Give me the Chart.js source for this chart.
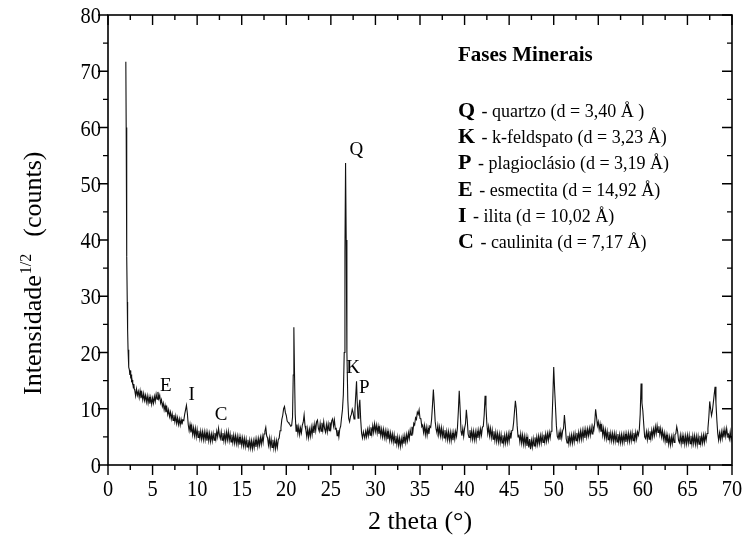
<!DOCTYPE html>
<html>
<head>
<meta charset="utf-8">
<script src="https://cdn.jsdelivr.net/npm/chart.js@4.4.1/dist/chart.umd.min.js"></script>
<style>
  html, body { margin: 0; padding: 0; background: #fff; }
  #wrap { width: 743px; height: 548px; }
</style>
</head>
<body>
<div id="wrap"><canvas id="myChart"></canvas></div>
<script>
// XRD scan: [2 theta (deg), intensity^1/2]
var scan = [
  [2.00,71.7],[2.04,60.0],[2.08,47.0],[2.12,37.0],[2.16,29.0],[2.20,24.0],[2.25,20.5],[2.30,18.5],[2.35,17.4],[2.40,16.9],
  [2.45,16.0],[2.50,16.8],[2.55,15.4],[2.60,16.1],[2.65,14.7],[2.70,15.1],[2.75,14.3],[2.80,14.6],[2.85,13.7],[2.90,14.4],
  [2.95,13.5],[3.0,13.3],[3.1,12.3],[3.2,13.5],[3.3,12.4],[3.4,13.1],[3.5,12.0],[3.6,13.2],[3.7,11.9],[3.8,12.8],
  [3.9,11.6],[4.0,12.7],[4.1,11.5],[4.2,12.4],[4.3,11.2],[4.4,12.3],[4.5,11.0],[4.6,12.1],[4.7,10.9],[4.8,12.0],
  [4.9,10.8],[5.0,11.9],[5.1,11.0],[5.2,12.2],[5.3,11.3],[5.4,12.6],[5.5,11.7],[5.6,13.0],[5.7,11.8],[5.8,12.4],
  [5.9,11.0],[6.0,11.6],[6.1,10.4],[6.2,11.0],[6.3,9.8],[6.4,10.6],[6.5,9.4],[6.6,10.2],[6.7,9.0],[6.8,9.8],
  [6.9,8.6],[7.0,9.4],[7.1,8.2],[7.2,9.1],[7.3,7.9],[7.4,8.9],[7.5,7.7],[7.6,8.7],[7.7,7.4],[7.8,8.4],
  [7.9,7.2],[8.0,8.2],[8.1,7.1],[8.2,8.1],[8.3,7.2],[8.4,8.0],[8.5,7.9],[8.6,9.0],[8.7,9.8],[8.8,10.6],
  [8.9,9.2],[9.0,7.2],[9.1,6.1],[9.2,7.2],[9.3,5.8],[9.4,6.9],[9.5,5.4],[9.6,6.6],[9.7,5.2],[9.8,6.5],
  [9.9,5.0],[10.0,6.3],[10.1,4.9],[10.2,6.1],[10.3,4.7],[10.4,6.0],[10.5,4.6],[10.6,5.9],[10.7,4.5],[10.8,5.9],
  [10.9,4.5],[11.0,5.8],[11.1,4.3],[11.2,5.7],[11.3,4.3],[11.4,5.6],[11.5,4.2],[11.6,5.5],[11.7,4.3],[11.8,5.6],
  [11.9,4.4],[12.0,5.7],[12.1,4.6],[12.2,6.0],[12.3,5.0],[12.4,6.5],[12.5,5.3],[12.6,4.7],[12.7,5.9],[12.8,4.4],
  [12.9,5.7],[13.0,4.3],[13.1,5.6],[13.2,4.2],[13.3,5.8],[13.4,4.5],[13.5,5.9],[13.6,4.3],[13.7,5.5],[13.8,4.1],
  [13.9,5.4],[14.0,4.0],[14.1,5.3],[14.2,3.9],[14.3,5.2],[14.4,3.8],[14.5,5.1],[14.6,3.7],[14.7,5.0],[14.8,3.6],
  [14.9,4.9],[15.0,3.5],[15.1,4.8],[15.2,3.4],[15.3,4.7],[15.4,3.3],[15.5,4.6],[15.6,3.2],[15.7,4.5],[15.8,3.1],
  [15.9,4.4],[16.0,3.0],[16.1,4.3],[16.2,2.9],[16.3,4.3],[16.4,3.1],[16.5,4.5],[16.6,3.2],[16.7,4.6],[16.8,3.3],
  [16.9,4.7],[17.0,3.5],[17.1,4.9],[17.2,3.7],[17.3,5.1],[17.4,4.0],[17.5,5.5],[17.6,6.0],[17.7,6.7],[17.8,5.2],
  [17.9,4.8],[18.0,3.5],[18.1,4.8],[18.2,3.2],[18.3,4.6],[18.4,3.1],[18.5,4.5],[18.6,3.0],[18.7,4.4],[18.8,2.9],
  [18.9,4.3],[19.0,3.1],[19.1,4.5],[19.2,4.8],[19.3,6.1],[19.4,6.6],[19.5,8.1],[19.6,8.8],[19.7,10.0],[19.8,10.4],
  [19.9,9.3],[20.0,8.8],[20.1,7.8],[20.2,7.6],[20.3,7.4],[20.4,7.2],[20.5,6.9],[20.6,7.0],[20.7,8.5],[20.78,16.0],
  [20.85,24.5],[20.92,16.5],[21.0,9.0],[21.1,6.0],[21.2,7.2],[21.3,5.6],[21.4,6.8],[21.5,5.4],[21.6,6.6],[21.7,5.7],
  [21.8,7.1],[21.9,7.6],[22.0,8.9],[22.1,7.0],[22.2,6.2],[22.3,5.0],[22.4,6.4],[22.5,4.9],[22.6,6.3],[22.7,5.1],
  [22.8,6.7],[22.9,5.4],[23.0,6.9],[23.1,5.7],[23.2,7.3],[23.3,6.1],[23.4,7.7],[23.5,8.0],[23.6,6.5],[23.7,6.0],
  [23.8,7.4],[23.9,6.0],[24.0,7.5],[24.1,6.2],[24.2,7.7],[24.3,6.4],[24.4,5.8],[24.5,7.2],[24.6,5.9],[24.7,7.3],
  [24.8,6.1],[24.9,7.6],[25.0,6.5],[25.1,7.9],[25.2,8.2],[25.3,6.9],[25.4,8.0],[25.5,6.4],[25.6,6.5],[25.7,5.2],
  [25.8,6.2],[25.9,5.0],[26.0,6.4],[26.1,6.9],[26.2,8.4],[26.3,9.8],[26.4,12.5],[26.5,20.0],[26.58,38.0],[26.65,53.7],
  [26.72,40.0],[26.8,20.0],[26.9,11.6],[27.0,8.3],[27.1,7.7],[27.2,8.6],[27.3,9.0],[27.4,9.9],[27.5,9.3],[27.6,8.2],
  [27.7,9.8],[27.8,12.6],[27.88,14.9],[27.95,11.5],[28.05,8.3],[28.15,10.2],[28.25,11.6],[28.35,8.0],[28.45,5.6],[28.55,4.8],
  [28.65,5.9],[28.8,4.8],[28.9,6.0],[29.0,5.0],[29.1,6.3],[29.2,5.2],[29.3,6.5],[29.4,5.3],[29.5,6.7],[29.6,5.5],
  [29.7,7.0],[29.8,5.8],[29.9,7.3],[30.0,6.0],[30.1,7.1],[30.2,5.7],[30.3,6.9],[30.4,5.5],[30.5,6.6],[30.6,5.2],
  [30.7,6.4],[30.8,5.0],[30.9,6.3],[31.0,4.9],[31.1,6.1],[31.2,4.7],[31.3,6.0],[31.4,4.6],[31.5,5.8],[31.6,4.4],
  [31.7,5.7],[31.8,4.3],[31.9,5.5],[32.0,4.1],[32.1,5.4],[32.2,3.9],[32.3,5.2],[32.4,3.7],[32.5,5.0],[32.6,3.5],
  [32.7,4.8],[32.8,3.3],[32.9,4.7],[33.0,3.6],[33.1,5.0],[33.2,3.8],[33.3,5.2],[33.4,4.0],[33.5,5.4],[33.6,4.3],
  [33.7,5.7],[33.8,4.7],[33.9,6.2],[34.0,5.3],[34.1,6.8],[34.2,5.9],[34.3,7.4],[34.4,7.1],[34.5,8.4],[34.6,8.1],
  [34.7,9.4],[34.8,9.0],[34.9,9.8],[35.0,8.3],[35.1,8.2],[35.2,6.8],[35.3,7.1],[35.4,5.8],[35.5,7.0],[35.6,5.4],
  [35.7,6.7],[35.8,5.3],[35.9,6.6],[36.0,5.5],[36.1,6.9],[36.2,6.7],[36.3,8.1],[36.4,10.6],[36.5,13.4],[36.6,10.7],
  [36.7,7.8],[36.8,6.4],[36.9,5.7],[37.0,7.0],[37.1,5.4],[37.2,6.7],[37.3,5.2],[37.4,6.6],[37.5,5.0],[37.6,6.3],
  [37.7,4.8],[37.8,6.2],[37.9,4.7],[38.0,6.0],[38.1,4.5],[38.2,5.9],[38.3,4.4],[38.4,5.8],[38.5,4.3],[38.6,5.7],
  [38.7,4.4],[38.8,5.8],[38.9,4.6],[39.0,6.0],[39.1,5.1],[39.2,6.6],[39.3,9.5],[39.4,13.2],[39.5,10.0],[39.6,6.0],
  [39.7,5.2],[39.8,6.5],[39.9,5.1],[40.0,6.5],[40.1,7.3],[40.2,9.8],[40.3,8.0],[40.4,5.5],[40.5,4.9],[40.6,6.2],
  [40.7,4.7],[40.8,6.1],[40.9,4.6],[41.0,6.0],[41.1,4.5],[41.2,5.9],[41.3,4.5],[41.4,6.0],[41.5,4.8],[41.6,6.2],
  [41.7,5.0],[41.8,6.4],[41.9,5.3],[42.0,6.7],[42.1,6.9],[42.2,8.9],[42.3,12.3],[42.4,10.4],[42.5,7.3],[42.6,5.6],
  [42.7,6.8],[42.8,5.2],[42.9,6.5],[43.0,4.9],[43.1,6.2],[43.2,4.6],[43.3,6.0],[43.4,4.4],[43.5,5.8],[43.6,4.2],
  [43.7,5.6],[43.8,4.1],[43.9,5.5],[44.0,4.0],[44.1,5.4],[44.2,3.9],[44.3,5.3],[44.4,3.8],[44.5,5.3],[44.6,3.9],
  [44.7,5.4],[44.8,4.0],[44.9,5.5],[45.0,4.2],[45.1,5.7],[45.2,4.7],[45.3,6.1],[45.4,6.2],[45.5,7.5],[45.6,9.5],
  [45.7,11.4],[45.8,10.0],[45.9,7.0],[46.0,5.0],[46.1,5.4],[46.2,4.1],[46.3,5.5],[46.4,3.9],[46.5,5.3],[46.6,3.7],
  [46.7,5.1],[46.8,3.6],[46.9,5.0],[47.0,3.4],[47.1,4.8],[47.2,3.1],[47.3,4.6],[47.4,2.8],[47.5,4.4],[47.6,3.2],
  [47.7,4.7],[47.8,3.4],[47.9,4.9],[48.0,3.6],[48.1,5.0],[48.2,3.7],[48.3,5.1],[48.4,3.8],[48.5,5.2],[48.6,3.9],
  [48.7,5.3],[48.8,4.0],[48.9,5.4],[49.0,4.1],[49.1,5.5],[49.2,4.2],[49.3,5.6],[49.4,4.4],[49.5,5.8],[49.6,4.8],
  [49.7,6.0],[49.8,7.5],[49.9,12.0],[50.0,17.4],[50.1,13.5],[50.2,10.3],[50.3,7.0],[50.4,5.1],[50.5,4.7],[50.6,5.8],
  [50.7,4.5],[50.8,6.0],[50.9,4.8],[51.0,6.1],[51.1,6.5],[51.2,8.9],[51.3,7.0],[51.4,4.7],[51.5,3.9],[51.6,5.2],
  [51.7,3.8],[51.8,5.2],[51.9,3.9],[52.0,5.3],[52.1,3.9],[52.2,5.4],[52.3,4.1],[52.4,5.6],[52.5,4.3],[52.6,5.7],
  [52.7,4.4],[52.8,5.8],[52.9,4.5],[53.0,6.0],[53.1,4.6],[53.2,6.1],[53.3,4.7],[53.4,6.2],[53.5,4.8],[53.6,6.3],
  [53.7,5.0],[53.8,6.4],[53.9,5.2],[54.0,6.5],[54.1,5.3],[54.2,6.7],[54.3,5.5],[54.4,6.8],[54.5,6.2],[54.6,7.5],
  [54.7,9.9],[54.8,8.6],[54.9,7.0],[55.0,7.7],[55.1,6.3],[55.2,7.3],[55.3,5.9],[55.4,6.9],[55.5,5.3],[55.6,6.5],
  [55.7,4.9],[55.8,6.2],[55.9,4.7],[56.0,6.0],[56.1,4.5],[56.2,5.9],[56.3,4.4],[56.4,5.7],[56.5,4.3],[56.6,5.6],
  [56.7,4.2],[56.8,5.6],[56.9,4.2],[57.0,5.5],[57.1,4.1],[57.2,5.5],[57.3,4.1],[57.4,5.4],[57.5,4.0],[57.6,5.4],
  [57.7,4.0],[57.8,5.4],[57.9,4.1],[58.0,5.5],[58.1,4.1],[58.2,5.5],[58.3,4.2],[58.4,5.6],[58.5,4.2],[58.6,5.6],
  [58.7,4.3],[58.8,5.7],[58.9,4.3],[59.0,5.7],[59.1,4.4],[59.2,5.8],[59.3,4.6],[59.4,5.9],[59.5,5.3],[59.6,6.2],
  [59.7,9.0],[59.8,14.5],[59.9,11.0],[60.0,9.6],[60.1,7.2],[60.2,5.0],[60.3,4.7],[60.4,5.9],[60.5,4.5],[60.6,5.9],
  [60.7,4.6],[60.8,6.0],[60.9,4.7],[61.0,6.2],[61.1,5.0],[61.2,6.4],[61.3,5.3],[61.4,6.8],[61.5,5.6],[61.6,7.0],
  [61.7,5.8],[61.8,6.9],[61.9,5.4],[62.0,6.5],[62.1,5.0],[62.2,6.1],[62.3,4.6],[62.4,5.7],[62.5,4.2],[62.6,5.4],
  [62.7,3.9],[62.8,5.2],[62.9,3.7],[63.0,5.0],[63.1,3.6],[63.2,5.0],[63.3,3.8],[63.4,5.2],[63.5,4.0],[63.6,5.4],
  [63.7,5.6],[63.8,6.8],[63.9,6.0],[64.0,4.4],[64.1,4.0],[64.2,5.3],[64.3,3.8],[64.4,5.2],[64.5,3.7],[64.6,5.1],
  [64.7,3.7],[64.8,5.2],[64.9,3.8],[65.0,5.3],[65.1,3.9],[65.2,5.3],[65.3,3.8],[65.4,5.2],[65.5,3.7],[65.6,5.2],
  [65.7,3.8],[65.8,5.2],[65.9,3.7],[66.0,5.1],[66.1,3.6],[66.2,5.1],[66.3,3.7],[66.4,5.2],[66.5,3.8],[66.6,5.2],
  [66.7,3.9],[66.8,5.3],[66.9,4.0],[67.0,5.4],[67.1,4.4],[67.2,5.6],[67.3,6.5],[67.4,8.5],[67.5,11.3],[67.6,10.0],
  [67.7,8.8],[67.8,9.6],[67.9,11.0],[68.0,12.5],[68.1,13.9],[68.2,11.0],[68.3,8.0],[68.4,5.6],[68.5,4.4],[68.6,5.7],
  [68.7,4.5],[68.8,5.9],[68.9,4.7],[69.0,6.1],[69.1,4.9],[69.2,6.3],[69.3,5.1],[69.4,6.5],[69.5,5.3],[69.6,5.5],
  [69.7,4.6],[69.8,5.9],[69.9,4.5],[70.0,5.2]
];

// peak letters on the curve
var peakLetters = ['E', 'I', 'C', 'Q', 'K', 'P'];
var peakTheta   = [6.48, 9.38, 12.69, 27.86, 27.49, 28.76];
var peakCount   = [14.3, 12.8, 9.24, 56.2, 17.5, 13.9];

// legend box
var legendTitle = 'Fases Minerais';
var phaseLetters = ['Q', 'K', 'P', 'E', 'I', 'C'];
var phaseNames = [
  'quartzo (d = 3,40 Å )',
  'k-feldspato (d = 3,23 Å)',
  'plagioclásio (d = 3,19 Å)',
  'esmectita (d = 14,92 Å)',
  'ilita (d = 10,02 Å)',
  'caulinita (d = 7,17 Å)'
];

var serif = '"Liberation Serif", "Times New Roman", serif';
Chart.defaults.font.family = serif;
Chart.defaults.color = '#000';

// frame, inward/outward ticks, tick labels, titles and labels
var decorations = {
  id: 'decorations',
  afterDraw: function (chart) {
    var ctx = chart.ctx;
    var a = chart.chartArea;
    var x = chart.scales.x;
    var y = chart.scales.y;
    ctx.save();
    ctx.strokeStyle = '#000';
    ctx.lineWidth = 1.6;
    ctx.strokeRect(a.left, a.top, a.right - a.left, a.bottom - a.top);

    ctx.lineWidth = 1.4;
    ctx.beginPath();
    x.ticks.forEach(function (t) {
      var px = x.getPixelForValue(t.value);
      var len = t.value % 5 === 0 ? 10 : 5;
      ctx.moveTo(px, a.bottom); ctx.lineTo(px, a.bottom + len);
      ctx.moveTo(px, a.top); ctx.lineTo(px, a.top + len);
    });
    y.ticks.forEach(function (t) {
      var py = y.getPixelForValue(t.value);
      var len = t.value % 10 === 0 ? 10 : 5;
      ctx.moveTo(a.left, py); ctx.lineTo(a.left - len, py);
      ctx.moveTo(a.right, py); ctx.lineTo(a.right - len, py);
    });
    ctx.stroke();

    ctx.fillStyle = '#000';
    ctx.textBaseline = 'alphabetic';

    // tick labels, slightly narrow like the scanned figure
    ctx.font = '24px ' + serif;
    x.ticks.forEach(function (t) {
      if (t.value % 5 !== 0) return;
      ctx.save();
      ctx.translate(x.getPixelForValue(t.value), 496);
      ctx.scale(0.85, 1);
      ctx.textAlign = 'center';
      ctx.fillText(String(t.value), 0, 0);
      ctx.restore();
    });
    y.ticks.forEach(function (t) {
      if (t.value % 10 !== 0) return;
      ctx.save();
      ctx.translate(a.left - 7, y.getPixelForValue(t.value) + 8);
      ctx.scale(0.85, 1);
      ctx.textAlign = 'right';
      ctx.fillText(String(t.value), 0, 0);
      ctx.restore();
    });

    // x title
    ctx.font = '26px ' + serif;
    ctx.textAlign = 'center';
    ctx.fillText('2 theta (°)', (a.left + a.right) / 2, 529);

    // y title with superscript
    ctx.save();
    ctx.translate(41, 395);
    ctx.rotate(-Math.PI / 2);
    ctx.textAlign = 'left';
    ctx.font = '26px ' + serif;
    ctx.fillText('Intensidade', 0, 0);
    var w = ctx.measureText('Intensidade').width + 1;
    ctx.font = '16px ' + serif;
    ctx.fillText('1/2', w, -10);
    w += ctx.measureText('1/2').width + 17;
    ctx.font = '26px ' + serif;
    ctx.fillText('(counts)', w, 0);
    ctx.restore();

    // peak letters
    ctx.textAlign = 'center';
    ctx.font = '19px ' + serif;
    peakLetters.forEach(function (s, i) {
      var px = x.getPixelForValue(peakTheta[i]);
      var py = y.getPixelForValue(peakCount[i]);
      ctx.fillText(s, px, py + 6.5);
    });

    // legend
    ctx.textAlign = 'left';
    ctx.font = 'bold 21px ' + serif;
    ctx.fillText(legendTitle, 458, 61);
    phaseLetters.forEach(function (s, i) {
      var by = 117 + i * 26.2;
      ctx.font = 'bold 22px ' + serif;
      ctx.fillText(s, 458, by);
      var lw = ctx.measureText(s).width;
      ctx.font = '18px ' + serif;
      ctx.fillText(' - ' + phaseNames[i], 458 + lw + 2, by);
    });
    ctx.restore();
  }
};

new Chart('myChart', {
  type: 'line',
  data: {
    datasets: [{
      data: scan.map(function (p) { return {x: p[0], y: p[1]}; }),
      borderColor: '#111',
      borderWidth: 1.1,
      pointRadius: 0,
      tension: 0,
      fill: false
    }]
  },
  options: {
    responsive: true,
    maintainAspectRatio: false,
    animation: false,
    layout: {padding: {top: 15, right: 11, left: 0, bottom: 0}},
    plugins: {legend: {display: false}, tooltip: {enabled: false}},
    scales: {
      x: {
        type: 'linear', min: 0, max: 70,
        grid: {display: false, drawTicks: false},
        border: {display: false},
        ticks: {stepSize: 2.5, autoSkip: false, display: false},
        afterFit: function (s) { s.height = 83; }
      },
      y: {
        min: 0, max: 80,
        grid: {display: false, drawTicks: false},
        border: {display: false},
        ticks: {stepSize: 5, autoSkip: false, display: false},
        afterFit: function (s) { s.width = 108; }
      }
    }
  },
  plugins: [decorations]
});
</script>
</body>
</html>
